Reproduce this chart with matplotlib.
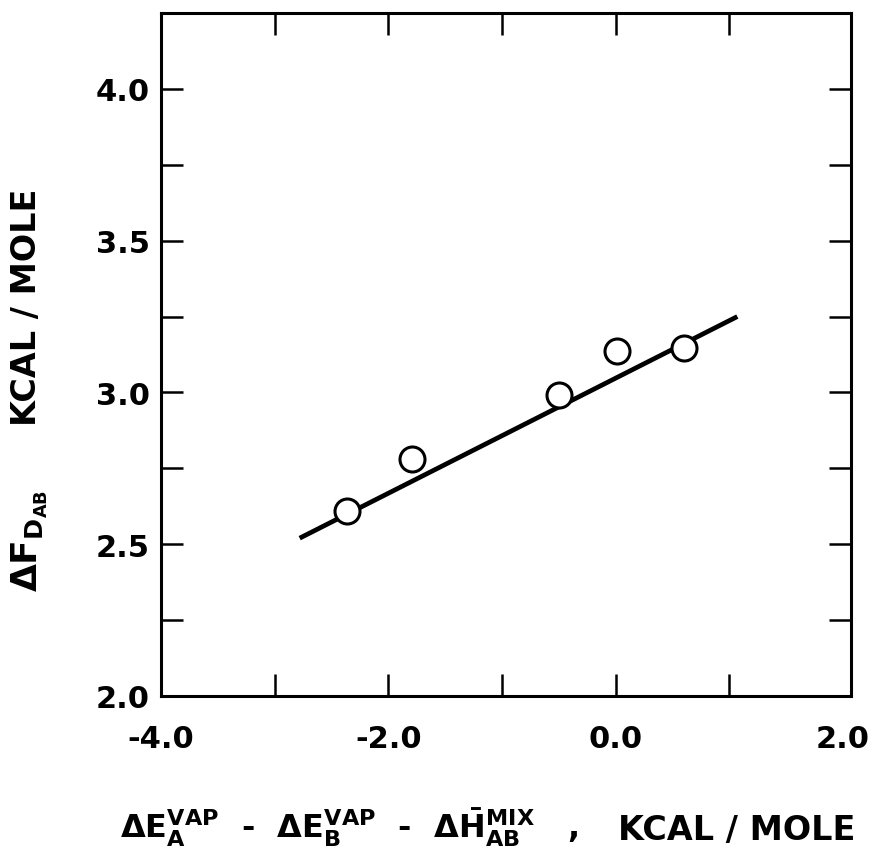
import matplotlib
matplotlib.use('Agg')
import matplotlib.pyplot as plt
from matplotlib.ticker import MultipleLocator

# Datos
x_puntos = [-2.36, -1.79, -0.50, 0.01, 0.60]
y_puntos = [2.61, 2.78, 2.99, 3.135, 3.145]

# Recta de ajuste (extremos)
x_recta = [-2.78, 1.07]
y_recta = [2.52, 3.25]

x_ticks = [-4.0, -2.0, 0.0, 2.0]
y_ticks = [2.0, 2.5, 3.0, 3.5, 4.0]

plt.rcParams['font.family'] = ['DejaVu Sans']
plt.rcParams['font.weight'] = 'bold'
plt.rcParams['mathtext.fontset'] = 'dejavusans'
plt.rcParams['mathtext.default'] = 'bf'

W, H = 873, 853
fig = plt.figure(figsize=(W / 100, H / 100), dpi=100)
ax = fig.add_axes([161 / W, 1 - 697 / H, 690 / W, 683 / H])

ax.plot(x_recta, y_recta, color='black', linewidth=3.4, solid_capstyle='butt')
ax.plot(x_puntos, y_puntos, linestyle='none', marker='o', markersize=18,
        markerfacecolor='white', markeredgecolor='black', markeredgewidth=2.2)

ax.set_xlim(-4.0, 2.07)
ax.set_ylim(2.0, 4.25)
ax.set_xticks(x_ticks)
ax.set_xticklabels([f'{v:.1f}' for v in x_ticks])
ax.set_yticks(y_ticks)
ax.set_yticklabels([f'{v:.1f}' for v in y_ticks])
ax.xaxis.set_minor_locator(MultipleLocator(1.0))
ax.yaxis.set_minor_locator(MultipleLocator(0.25))

ax.tick_params(which='both', direction='in', length=16, width=1.8,
               top=True, right=True)
ax.tick_params(axis='x', which='major', labelsize=22, pad=20)
ax.tick_params(axis='y', which='major', labelsize=22, pad=8)
# la marca de 2.0 queda pegada al marco derecho: no se ve en el original
t = ax.xaxis.get_major_ticks()[-1]
t.tick1line.set_visible(False)
t.tick2line.set_visible(False)

for s in ax.spines.values():
    s.set_linewidth(2.2)

# Título del eje x (dos partes, como en el original)
fig.text(120 / W, 1 - 838 / H,
         r'$\Delta E_{A}^{VAP}$  -  $\Delta E_{B}^{VAP}$  -  $\Delta \bar{H}_{AB}^{MIX}$   ,',
         fontsize=23, fontweight='bold', ha='left', va='baseline')
fig.text(855 / W, 1 - 840 / H, 'KCAL / MOLE',
         fontsize=24, fontweight='bold', ha='right', va='baseline')

# Título del eje y
fig.text(10 / W, 1 - 307 / H, 'KCAL / MOLE', rotation=90,
         fontsize=24, fontweight='bold', ha='left', va='center')
fig.text(10 / W, 1 - 541 / H, r'$\Delta F_{D_{AB}}$', rotation=90,
         fontsize=26, fontweight='bold', ha='left', va='center')

fig.savefig('out.png', dpi=100)
